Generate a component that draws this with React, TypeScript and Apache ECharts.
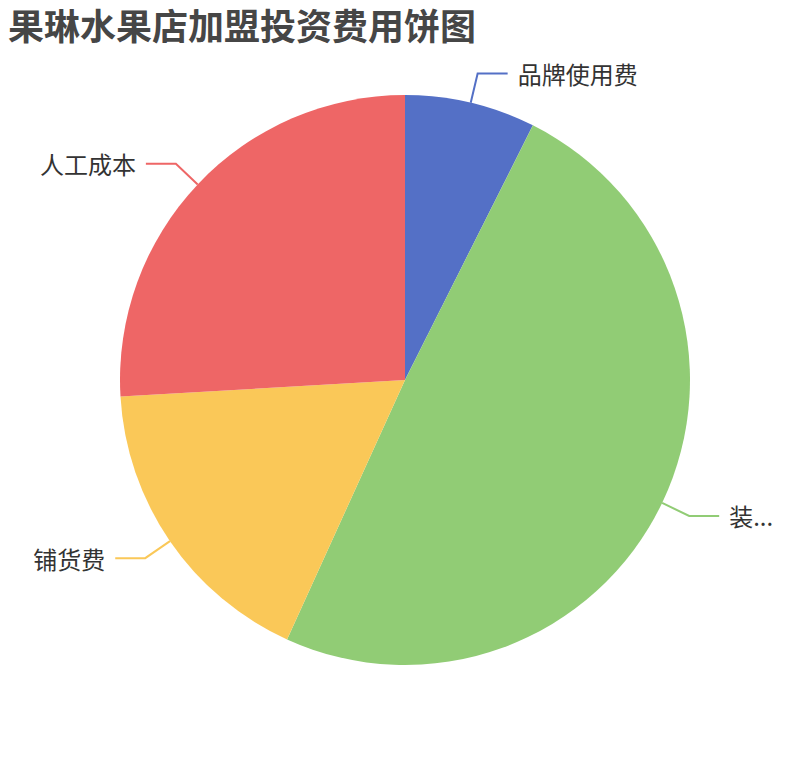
import React, { useEffect, useRef } from "react";
import * as echarts from "echarts";

const titleText = "果琳水果店加盟投资费用饼图";
const categories = ["品牌使用费", "装修费", "铺货费", "人工成本"];
const values = [3, 20, 7, 10.5];
const colors = ["#5470c6", "#91cc75", "#fac858", "#ee6666"];

export default function App() {
  const ref = useRef<HTMLDivElement>(null);
  useEffect(() => {
    if (!ref.current) return;
    const chart = echarts.init(ref.current, undefined, { renderer: "svg" });
    chart.setOption({
      animation: false,
      color: colors,
      title: {
        text: titleText,
        left: 8,
        top: 9,
        padding: 0,
        textStyle: {
          fontSize: 36,
          lineHeight: 30,
          fontWeight: "bold",
          color: "#464646",
          fontFamily: "Noto Sans CJK SC",
        },
      },
      series: [
        {
          type: "pie",
          center: ["50%", "50%"],
          radius: 285,
          startAngle: 90,
          data: categories.map((name, i) => ({ name, value: values[i] })),
          label: {
            fontSize: 24,
            color: "#333",
            fontFamily: "Noto Sans CJK SC",
            distanceToLabelLine: 10,
            bleedMargin: 22,
          },
          labelLine: { length: 30, length2: 30, lineStyle: { width: 2 } },
        },
      ],
    });
    return () => chart.dispose();
  }, []);
  return (
    <div
      ref={ref}
      style={{ width: 810, height: 760, marginLeft: -8, marginTop: -8 }}
    />
  );
}
